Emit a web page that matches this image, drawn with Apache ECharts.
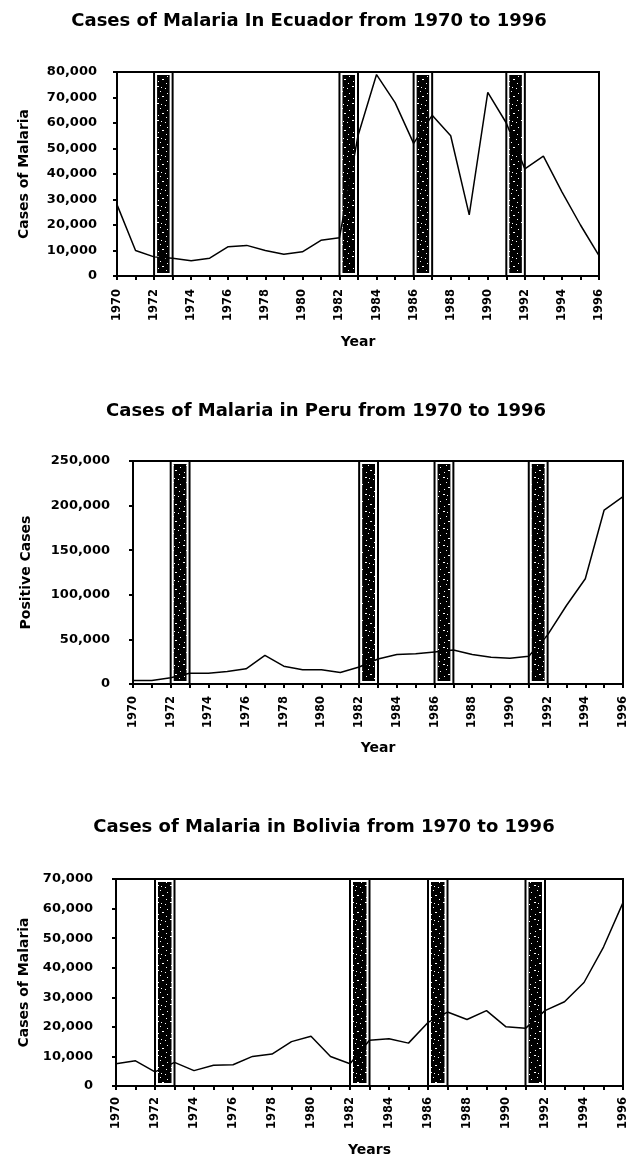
<!DOCTYPE html>
<html><head><meta charset="utf-8">
<script src="https://cdn.jsdelivr.net/npm/echarts@6/dist/echarts.min.js"></script>
<style>html,body{margin:0;padding:0;background:#fff}#c{width:629px;height:1160px}</style>
</head><body><div id="c"></div>
<script>
const years = [1970,1971,1972,1973,1974,1975,1976,1977,1978,1979,1980,1981,1982,1983,1984,1985,1986,1987,1988,1989,1990,1991,1992,1993,1994,1995,1996];
const ecuadorCases = [28000,10000,7500,7000,6000,7000,11500,12000,10000,8500,9500,14000,15000,55000,79000,68000,52000,63000,55000,24000,72000,60000,42000,47000,33000,20000,8000];
const peruCases = [4000,4000,7000,12000,12000,14000,17000,32000,20000,16000,16000,13000,19000,28000,33000,34000,36000,38000,33000,30000,29000,31000,55000,88000,118000,195000,210000];
const boliviaCases = [7500,8500,4800,8000,5200,7000,7200,10000,10800,15000,16800,10000,7500,15500,16000,14500,21500,25000,22500,25500,20000,19500,25500,28500,35000,47000,62000];
const ninoStart = [1972,1982,1986,1991];
const ninoEnd = [1973,1983,1987,1992];
const chartTitles = ['Cases of Malaria In Ecuador from 1970 to 1996','Cases of Malaria in Peru from 1970 to 1996','Cases of Malaria in Bolivia from 1970 to 1996'];
const yNames = ['Cases of Malaria','Positive Cases','Cases of Malaria'];
const xNames = ['Year','Year','Years'];
const yMax = [80000,250000,70000];
const yStep = [10000,50000,10000];

const FONT = 'DejaVu Sans';
// texture for the El Nino boxes
const pat = document.createElement('canvas');
pat.width = 13; pat.height = 17;
const pc = pat.getContext('2d');
pc.fillStyle = '#000'; pc.fillRect(0,0,13,17);
pc.fillStyle = '#fff';
[[1,1],[2,1],[9,3],[4,6],[11,8],[6,11],[7,11],[2,13],[10,15],[5,2]].forEach(p=>pc.fillRect(p[0],p[1],1,1));

const layout = [
  {left:117, right:30, top:72, height:204, titleX:304, titleY:7, lblMargin:20, nameGap:86, xLblMargin:13, xNameGap:59},
  {left:133, right:5, top:461, height:223, titleX:321, titleY:397, lblMargin:23, nameGap:100, xLblMargin:12, xNameGap:57},
  {left:116, right:3, top:879, height:207, titleX:319, titleY:813, lblMargin:23, nameGap:85, xLblMargin:11, xNameGap:57}
];
const dataSets = [ecuadorCases, peruCases, boliviaCases];
const fmt = v => String(v).replace(/\B(?=(\d{3})+(?!\d))/g, ',');

const option = {
  backgroundColor:'#fff',
  animation:false,
  title: layout.map((L,i)=>({text:chartTitles[i], left:L.titleX, top:L.titleY, textAlign:'center',
    textStyle:{fontFamily:FONT, fontSize:18, fontWeight:'bold', color:'#000'}})),
  grid: layout.map(L=>({left:L.left, right:L.right, top:L.top, height:L.height, show:true, borderColor:'#000', borderWidth:2, backgroundColor:'transparent'})),
  xAxis: layout.map((L,i)=>({gridIndex:i, type:'value', min:1970, max:1996, interval:1,
    name:xNames[i], nameLocation:'middle', nameGap:L.xNameGap,
    nameTextStyle:{fontFamily:FONT, fontSize:14, fontWeight:'bold', color:'#000'},
    axisLine:{lineStyle:{color:'#000', width:2}},
    axisTick:{length:4, lineStyle:{color:'#000', width:2}},
    splitLine:{show:false},
    axisLabel:{rotate:90, margin:L.xLblMargin, fontFamily:FONT, fontSize:11.5, fontWeight:'bold', color:'#000',
      formatter:v => (v % 2 === 0 ? String(v) : '')}})),
  yAxis: layout.map((L,i)=>({gridIndex:i, type:'value', min:0, max:yMax[i], interval:yStep[i],
    name:yNames[i], nameLocation:'middle', nameGap:L.nameGap, nameRotate:90,
    nameTextStyle:{fontFamily:FONT, fontSize:14, fontWeight:'bold', color:'#000'},
    axisLine:{show:true, lineStyle:{color:'#000', width:2}},
    axisTick:{show:true, length:4, lineStyle:{color:'#000', width:2}},
    splitLine:{show:false},
    axisLabel:{margin:L.lblMargin, fontFamily:FONT, fontSize:13, fontWeight:'bold', color:'#000', formatter:fmt}})),
  series: []
};

layout.forEach((L,i)=>{
  option.series.push({
    type:'custom', xAxisIndex:i, yAxisIndex:i, z:1,
    data: ninoStart.map((s,k)=>[s, ninoEnd[k]]),
    encode:{x:[0,1]},
    renderItem:(params, api)=>{
      const a = api.coord([api.value(0), yMax[i]]);
      const b = api.coord([api.value(1), 0]);
      const x = a[0], y = a[1], w = b[0]-a[0], h = b[1]-a[1];
      return {type:'group', children:[
        {type:'rect', shape:{x:x+3, y:y+3, width:w-6, height:h-6}, style:{fill:{image:pat, repeat:'repeat'}}},
        {type:'rect', shape:{x:x, y:y, width:w, height:h}, style:{fill:null, stroke:'#000', lineWidth:2}}
      ]};
    }
  });
  option.series.push({
    type:'line', xAxisIndex:i, yAxisIndex:i, z:3, showSymbol:false, symbol:'none',
    lineStyle:{color:'#000', width:1.5},
    data: years.map((y,k)=>[y, dataSets[i][k]])
  });
});

const chart = echarts.init(document.getElementById('c'), null, {renderer:'canvas'});
chart.setOption(option);
</script></body></html>
